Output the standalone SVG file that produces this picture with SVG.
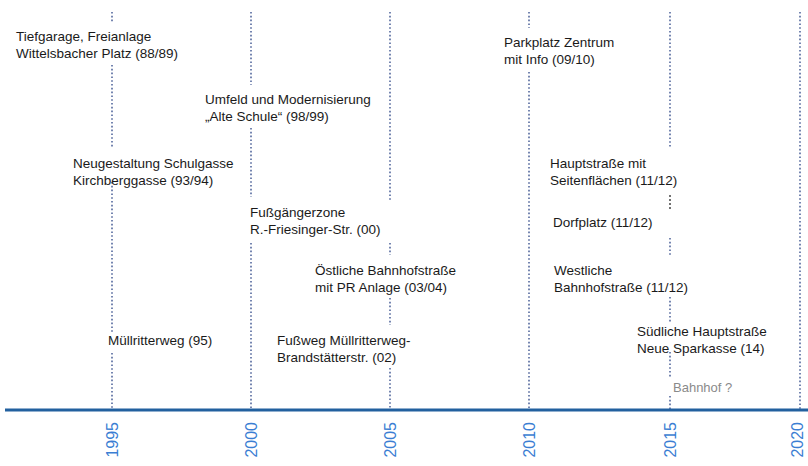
<svg xmlns="http://www.w3.org/2000/svg" width="808" height="466" viewBox="0 0 808 466">
  <style>
    .lbl { font-family: "Liberation Sans", Arial, sans-serif; font-size: 13.5px; fill: #1a1a1a; }
    .note { font-family: "Liberation Sans", Arial, sans-serif; font-size: 13px; fill: #8a8a8a; }
    .yr { font-family: "Liberation Sans", Arial, sans-serif; font-size: 16px; fill: #3b7ed3; }
    .seg { stroke: #7585b0; stroke-width: 2; stroke-dasharray: 1.6 2.2; fill: none; }
    .seg-dark { stroke: #444; stroke-width: 1.5; stroke-dasharray: 2 2; fill: none; }
    .axis { stroke: #22609f; stroke-width: 3; fill: none; }
  </style>
  <rect width="808" height="466" fill="#ffffff"/>

  <!-- dotted year guides, interrupted behind the project labels -->
  <g id="connectors">
    <!-- 1995 -->
    <line class="seg" x1="112" y1="12" x2="112" y2="22"/>
    <line class="seg" x1="112" y1="65" x2="112" y2="148"/>
    <line class="seg" x1="112" y1="182" x2="112" y2="332"/>
    <line class="seg" x1="112" y1="353" x2="112" y2="410"/>
    <!-- 2000 -->
    <line class="seg" x1="251" y1="12" x2="251" y2="85"/>
    <line class="seg" x1="251" y1="128" x2="251" y2="197"/>
    <line class="seg" x1="251" y1="243" x2="251" y2="410"/>
    <!-- 2005 -->
    <line class="seg" x1="390" y1="12" x2="390" y2="200"/>
    <line class="seg" x1="390" y1="243" x2="390" y2="255"/>
    <line class="seg" x1="390" y1="298" x2="390" y2="325"/>
    <line class="seg" x1="390" y1="368" x2="390" y2="410"/>
    <!-- 2010 -->
    <line class="seg" x1="529" y1="12" x2="529" y2="28"/>
    <line class="seg" x1="529" y1="72" x2="529" y2="410"/>
    <!-- 2015 -->
    <line class="seg" x1="670" y1="12" x2="670" y2="148"/>
    <line class="seg-dark" x1="670" y1="195" x2="670" y2="210"/>
    <line class="seg" x1="670" y1="238" x2="670" y2="255"/>
    <line class="seg" x1="670" y1="297" x2="670" y2="322"/>
    <line class="seg" x1="670" y1="352" x2="670" y2="378"/>
    <line class="seg" x1="670" y1="396" x2="670" y2="410"/>
    <!-- 2020 -->
    <line class="seg" x1="800" y1="12" x2="800" y2="410"/>
  </g>

  <!-- time axis -->
  <g id="axis">
    <line class="axis" x1="5" y1="410" x2="808" y2="410"/>
    <text class="yr" text-anchor="end" transform="translate(117.5,422) rotate(-90)">1995</text>
    <text class="yr" text-anchor="end" transform="translate(256.5,422) rotate(-90)">2000</text>
    <text class="yr" text-anchor="end" transform="translate(395.5,422) rotate(-90)">2005</text>
    <text class="yr" text-anchor="end" transform="translate(534.5,422) rotate(-90)">2010</text>
    <text class="yr" text-anchor="end" transform="translate(675.5,422) rotate(-90)">2015</text>
    <text class="yr" text-anchor="end" transform="translate(802.5,422) rotate(-90)">2020</text>
  </g>

  <!-- projects -->
  <g id="tiefgarage">
    <text class="lbl" x="16" y="41">Tiefgarage, Freianlage</text>
    <text class="lbl" x="16" y="58">Wittelsbacher Platz (88/89)</text>
  </g>
  <g id="schulgasse">
    <text class="lbl" x="73" y="168">Neugestaltung Schulgasse</text>
    <text class="lbl" x="73" y="185">Kirchberggasse (93/94)</text>
  </g>
  <g id="muellritterweg">
    <text class="lbl" x="108" y="345">Müllritterweg (95)</text>
  </g>
  <g id="alte-schule">
    <text class="lbl" x="205" y="104">Umfeld und Modernisierung</text>
    <text class="lbl" x="205" y="121">„Alte Schule“ (98/99)</text>
  </g>
  <g id="fussgaengerzone">
    <text class="lbl" x="250" y="217">Fußgängerzone</text>
    <text class="lbl" x="250" y="234">R.-Friesinger-Str. (00)</text>
  </g>
  <g id="fussweg">
    <text class="lbl" x="277" y="345">Fußweg Müllritterweg-</text>
    <text class="lbl" x="277" y="362">Brandstätterstr. (02)</text>
  </g>
  <g id="oestliche-bahnhofstrasse">
    <text class="lbl" x="315" y="275">Östliche Bahnhofstraße</text>
    <text class="lbl" x="315" y="292">mit PR Anlage (03/04)</text>
  </g>
  <g id="parkplatz">
    <text class="lbl" x="504" y="47">Parkplatz Zentrum</text>
    <text class="lbl" x="504" y="64">mit Info (09/10)</text>
  </g>
  <g id="hauptstrasse">
    <text class="lbl" x="550" y="168">Hauptstraße mit</text>
    <text class="lbl" x="550" y="185">Seitenflächen (11/12)</text>
  </g>
  <g id="dorfplatz">
    <text class="lbl" x="553" y="227">Dorfplatz (11/12)</text>
  </g>
  <g id="westliche-bahnhofstrasse">
    <text class="lbl" x="554" y="275">Westliche</text>
    <text class="lbl" x="554" y="292">Bahnhofstraße (11/12)</text>
  </g>
  <g id="suedliche-hauptstrasse">
    <text class="lbl" x="637" y="336">Südliche Hauptstraße</text>
    <text class="lbl" x="637" y="353">Neue Sparkasse (14)</text>
  </g>
  <g id="bahnhof">
    <text class="note" x="673" y="392">Bahnhof ?</text>
  </g>
</svg>
